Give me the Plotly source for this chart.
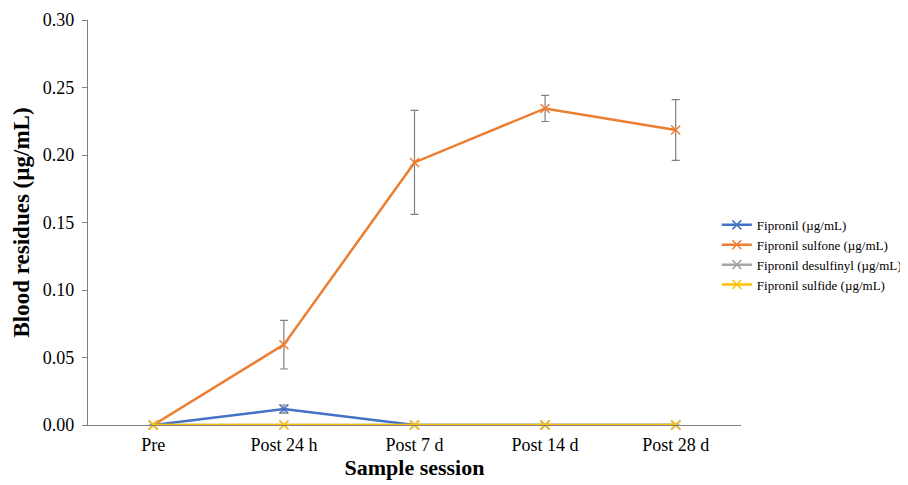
import plotly.graph_objects as go

categories = ["Pre", "Post 24 h", "Post 7 d", "Post 14 d", "Post 28 d"]
fipronil = [0.0, 0.0118, 0.0, 0.0, 0.0]
fipronil_err = [0.0, 0.003, 0.0, 0.0, 0.0]
sulfone = [0.0, 0.0595, 0.1945, 0.2345, 0.2185]
sulfone_err = [0.0, 0.018, 0.0385, 0.0097, 0.0225]
desulfinyl = [0.0, 0.0, 0.0, 0.0, 0.0]
sulfide = [0.0, 0.0, 0.0, 0.0, 0.0]

series = [
    ("Fipronil (µg/mL)", fipronil, fipronil_err, "#4472C4"),
    ("Fipronil sulfone (µg/mL)", sulfone, sulfone_err, "#ED7D31"),
    ("Fipronil desulfinyl (µg/mL)", desulfinyl, None, "#A5A5A5"),
    ("Fipronil sulfide (µg/mL)", sulfide, None, "#FFC000"),
]

fig = go.Figure()
for name, vals, err, color in series:
    kw = {}
    if err is not None:
        kw["error_y"] = dict(type="data", array=err, visible=True, color="#808080",
                             thickness=1.2, width=4)
    fig.add_trace(go.Scatter(
        x=categories, y=vals, name=name, mode="lines+markers",
        line=dict(color=color, width=2.5),
        marker=dict(symbol="x-thin", size=9, line=dict(color=color, width=1.5), color=color),
        cliponaxis=False,
        **kw))

font = "Liberation Serif, Times New Roman, serif"
fig.update_layout(
    width=908, height=485,
    margin=dict(l=80, r=175, t=12, b=68, autoexpand=False),
    plot_bgcolor="white", paper_bgcolor="white",
    font=dict(family=font, color="black"),
    showlegend=True,
    legend=dict(x=0.963, y=0.42, xanchor="left", yanchor="middle",
                font=dict(size=13, family=font), bgcolor="rgba(0,0,0,0)",
                tracegroupgap=0, itemwidth=30),
    xaxis=dict(
        title=dict(text="<b>Sample session</b>", font=dict(size=22, family=font), standoff=4),
        range=[-0.5, 4.5],
        showgrid=False, showline=True, linecolor="#808080", linewidth=1.2,
        ticks="", tickfont=dict(size=18, family=font), zeroline=False,
        ticklabelstandoff=3,
    ),
    yaxis=dict(
        title=dict(text="<b>Blood residues (µg/mL)</b>", font=dict(size=23, family=font), standoff=6),
        range=[0, 0.30], dtick=0.05, tickformat=".2f",
        showgrid=False, showline=True, linecolor="#808080", linewidth=1.2,
        ticks="outside", ticklen=5, tickcolor="#808080",
        tickfont=dict(size=18, family=font), zeroline=False,
        ticklabelstandoff=4,
    ),
)

fig.write_html("out.html")
